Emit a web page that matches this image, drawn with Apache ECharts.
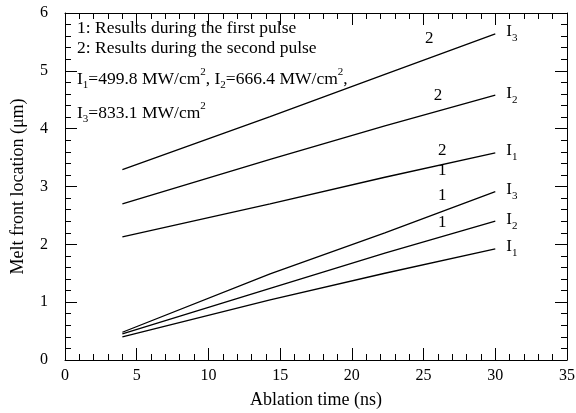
<!DOCTYPE html>
<html><head><meta charset="utf-8">
<script src="https://cdn.jsdelivr.net/npm/echarts@6/dist/echarts.min.js"></script>
<style>html,body{margin:0;padding:0;background:#fff}#c{width:576px;height:413px}</style>
</head><body><div id="c"></div>
<script>
const times = [4, 14.3, 22.3, 30];
const second_I3 = [3.29, 4.21, 4.94, 5.64];
const second_I2 = [2.70, 3.47, 4.05, 4.58];
const second_I1 = [2.13, 2.70, 3.16, 3.58];
const first_I3 = [0.48, 1.49, 2.20, 2.91];
const first_I2 = [0.45, 1.24, 1.85, 2.40];
const first_I1 = [0.40, 1.04, 1.50, 1.92];
const xTicks = [0, 5, 10, 15, 20, 25, 30, 35];
const yTicks = [0, 1, 2, 3, 4, 5, 6];

const F = 'Liberation Serif, Times New Roman, serif';
const pairs = (ys) => times.map((t, i) => [t, ys[i]]);
const rich = {
  i: {fontFamily: F, fontSize: 17, color: '#000'},
  s: {fontFamily: F, fontSize: 11, color: '#000', verticalAlign: 'bottom', padding: [13, 0, 0, 0]},
  sup: {fontFamily: F, fontSize: 11, color: '#000', verticalAlign: 'top', padding: [0, 0, 9, 0]},
  t: {fontFamily: F, fontSize: 17.5, color: '#000'}
};
function mk(name, ys, sub, num, numPos) {
  return {
    type: 'line', name, data: pairs(ys), showSymbol: false, symbol: 'none',
    lineStyle: {color: '#000', width: 1.3}, silent: true,
    endLabel: {show: true, formatter: '{i|I}{s|' + sub + '}', rich, offset: [3, -2]},
    markPoint: {
      symbol: 'circle', symbolSize: 0, silent: true,
      data: [{coord: numPos, label: {show: true, formatter: num, fontFamily: F, fontSize: 17, color: '#000'}}]
    }
  };
}
const chart = echarts.init(document.getElementById('c'));
const axisCommon = () => ({
  axisLine: {show: true, onZero: false, lineStyle: {color: '#000', width: 1}},
  axisTick: {show: true, inside: true, length: 12, lineStyle: {color: '#000'}},
  minorTick: {show: true, splitNumber: 5, length: 6, lineStyle: {color: '#000'}},
  splitLine: {show: false}
});
chart.setOption({
  animation: false,
  grid: {left: 65, right: 9, top: 13, bottom: 53, containLabel: false, outerBoundsMode: 'none'},
  xAxis: [
    Object.assign({type: 'value', min: 0, max: 35, interval: 5, position: 'bottom',
      name: 'Ablation time (ns)', nameLocation: 'middle', nameGap: 31,
      nameTextStyle: {fontFamily: F, fontSize: 18, color: '#000'},
      axisLabel: {fontFamily: F, fontSize: 16, color: '#000', margin: 8,
        formatter: v => xTicks.includes(v) ? String(v) : ''}}, axisCommon()),
    Object.assign({type: 'value', min: 0, max: 35, interval: 5, position: 'top',
      axisLabel: {show: false}}, axisCommon())
  ],
  yAxis: [
    Object.assign({type: 'value', min: 0, max: 6, interval: 1, position: 'left',
      name: 'Melt front location (\u03bcm)', nameLocation: 'middle', nameGap: 38,
      nameTextStyle: {fontFamily: F, fontSize: 18, color: '#000'},
      axisLabel: {fontFamily: F, fontSize: 16, color: '#000', margin: 17,
        formatter: v => yTicks.includes(v) ? String(v) : ''}}, axisCommon()),
    Object.assign({type: 'value', min: 0, max: 6, interval: 1, position: 'right',
      axisLabel: {show: false}}, axisCommon())
  ],
  series: [
    mk('2-I3', second_I3, 3, '2', [25.4, 5.55]),
    mk('2-I2', second_I2, 2, '2', [26.0, 4.57]),
    mk('2-I1', second_I1, 1, '2', [26.3, 3.62]),
    mk('1-I3', first_I3, 3, '1', [26.3, 3.27]),
    mk('1-I2', first_I2, 2, '1', [26.3, 2.85]),
    mk('1-I1', first_I1, 1, '1', [26.3, 2.38])
  ],
  graphic: [
    {type: 'text', left: 77, top: 19, style: {text: '1: Results during the first pulse', font: '17.5px ' + F, fill: '#000'}},
    {type: 'text', left: 77, top: 39, style: {text: '2: Results during the second pulse', font: '17.5px ' + F, fill: '#000'}},
    {type: 'text', left: 77, top: 67, style: {
      text: '{t|I}{s|1}{t|=499.8 MW/cm}{sup|2}{t|, I}{s|2}{t|=666.4 MW/cm}{sup|2}{t|,}', rich}},
    {type: 'text', left: 77, top: 101, style: {
      text: '{t|I}{s|3}{t|=833.1 MW/cm}{sup|2}', rich}}
  ]
});
</script></body></html>
